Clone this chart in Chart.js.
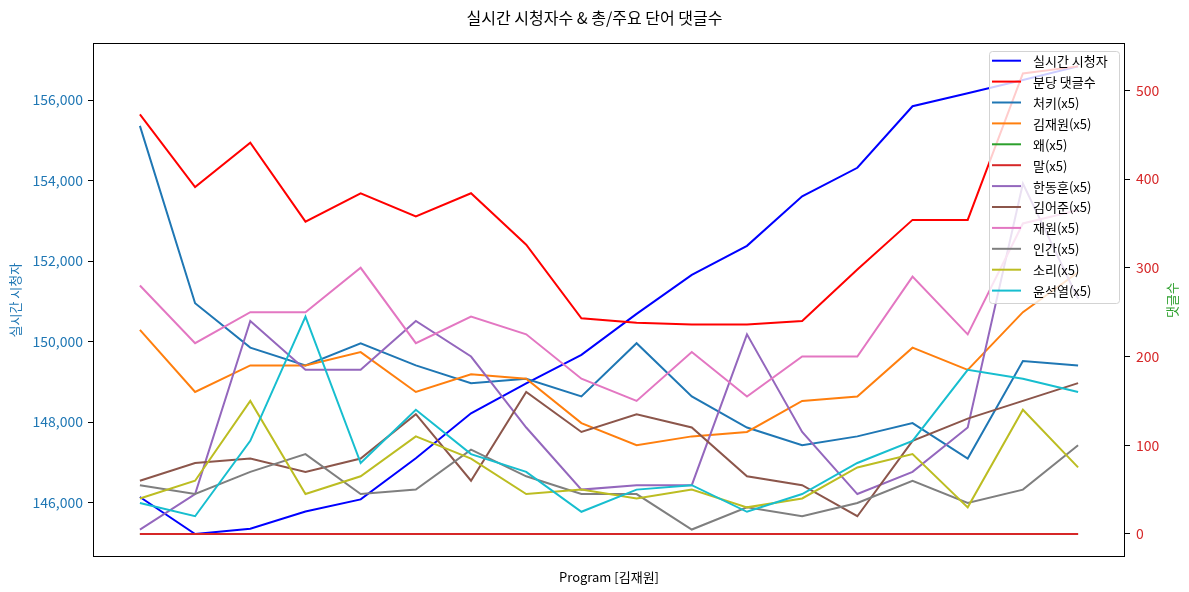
<!DOCTYPE html>
<html>
<head>
<meta charset="utf-8">
<script src="https://cdn.jsdelivr.net/npm/chart.js@4.4.1/dist/chart.umd.min.js"></script>
<style>
html,body{margin:0;padding:0;background:#fff;}
#wrap{width:1189px;height:592px;}
</style>
</head>
<body>
<div id="wrap"><canvas id="c" width="1189" height="592"></canvas></div>
<script>
const FONT = "'Noto Sans CJK KR', 'Noto Sans', sans-serif";

// ---- data ----
const categories = [0,1,2,3,4,5,6,7,8,9,10,11,12,13,14,15,16,17];
const leftTicks = [146000,148000,150000,152000,154000,156000];
const rightTicks = [0,100,200,300,400,500];

const viewers        = [146140,145220,145350,145780,146080,147100,148220,148960,149670,150690,151660,152380,153610,154320,155850,156170,156500,156840];
const commentsPerMin = [473,391,441,352,384,358,384,326,243,238,236,236,240,298,354,354,519,527];
const chuki          = [460,260,210,190,215,190,170,175,155,215,155,120,100,110,125,85,195,190];
const kimJaewon      = [230,160,190,190,205,160,180,175,125,100,110,115,150,155,210,185,250,295];
const wae            = [0,0,0,0,0,0,0,0,0,0,0,0,0,0,0,0,0,0];
const mal            = [0,0,0,0,0,0,0,0,0,0,0,0,0,0,0,0,0,0];
const hanDonghoon    = [5,45,240,185,185,240,200,120,50,55,55,225,115,45,70,120,395,265];
const kimEojun       = [60,80,85,70,85,135,60,160,115,135,120,65,55,20,105,130,150,170];
const jaewon         = [280,215,250,250,300,215,245,225,175,150,205,155,200,200,290,225,350,365];
const ingan          = [55,45,70,90,45,50,95,65,45,45,5,30,20,35,60,35,50,100];
const sori           = [40,60,150,45,65,110,85,45,50,40,50,30,40,75,90,30,140,75];
const yoonSeokyeol   = [35,20,105,245,80,140,90,70,25,50,55,25,45,80,105,185,175,160];

const seriesDefs = [
  {label:'실시간 시청자', values:viewers, color:'#0000ff', axis:'y'},
  {label:'분당 댓글수', values:commentsPerMin, color:'#ff0000', axis:'y2'},
  {label:'처키(x5)', values:chuki, color:'#1f77b4', axis:'y2'},
  {label:'김재원(x5)', values:kimJaewon, color:'#ff7f0e', axis:'y2'},
  {label:'왜(x5)', values:wae, color:'#2ca02c', axis:'y2'},
  {label:'말(x5)', values:mal, color:'#d62728', axis:'y2'},
  {label:'한동훈(x5)', values:hanDonghoon, color:'#9467bd', axis:'y2'},
  {label:'김어준(x5)', values:kimEojun, color:'#8c564b', axis:'y2'},
  {label:'재원(x5)', values:jaewon, color:'#e377c2', axis:'y2'},
  {label:'인간(x5)', values:ingan, color:'#7f7f7f', axis:'y2'},
  {label:'소리(x5)', values:sori, color:'#bcbd22', axis:'y2'},
  {label:'윤석열(x5)', values:yoonSeokyeol, color:'#17becf', axis:'y2'}
];

function padRange(arrs){
  const all = [].concat(...arrs);
  const mn = Math.min(...all), mx = Math.max(...all);
  const m = (mx - mn) * 0.05;
  return [mn - m, mx + m];
}
const [lMin, lMax] = padRange([viewers]);
const [rMin, rMax] = padRange(seriesDefs.filter(s=>s.axis==='y2').map(s=>s.values));
const xSpan = categories[categories.length-1] - categories[0];
const xMin = categories[0] - xSpan*0.05, xMax = categories[categories.length-1] + xSpan*0.05;

const datasets = seriesDefs.map((s, i) => ({
  label: s.label,
  data: s.values.map((v, k) => ({x: categories[k], y: v})),
  borderColor: s.color,
  backgroundColor: s.color,
  borderWidth: 2,
  pointRadius: 0,
  pointHoverRadius: 0,
  tension: 0,
  fill: false,
  yAxisID: s.axis,
  order: seriesDefs.length - i
}));

const framePlugin = {
  id: 'frame',
  afterDatasetsDraw(chart){
    const {ctx, chartArea:a} = chart;
    ctx.save();
    ctx.strokeStyle = '#000';
    ctx.lineWidth = 1;
    ctx.strokeRect(Math.round(a.left)+0.5, Math.round(a.top)+0.5, Math.round(a.right-a.left)-1, Math.round(a.bottom-a.top)-1);
    ctx.restore();
  },
  afterDraw(chart){
    const {ctx, chartArea:a} = chart;
    ctx.save();
    // right axis title (reads bottom to top)
    ctx.translate(1172, (a.top + a.bottom)/2);
    ctx.rotate(-Math.PI/2);
    ctx.fillStyle = '#2ca02c';
    ctx.font = '13px ' + FONT;
    ctx.textAlign = 'center';
    ctx.textBaseline = 'middle';
    ctx.fillText('댓글수', 0, 0);
    ctx.restore();

    // legend in upper right of plot area
    const ds = chart.data.datasets;
    const bx = 989, by = 51, bw = 130, bh = 252;
    ctx.save();
    ctx.beginPath();
    ctx.roundRect(bx+0.5, by+0.5, bw, bh, 3);
    ctx.fillStyle = 'rgba(255,255,255,0.8)';
    ctx.fill();
    ctx.strokeStyle = '#d3d3d3';
    ctx.lineWidth = 1;
    ctx.stroke();
    ctx.font = '13px ' + FONT;
    ctx.textAlign = 'left';
    ctx.textBaseline = 'middle';
    ds.forEach((d, k) => {
      const y = 60.7 + 20.9*k;
      ctx.beginPath();
      ctx.moveTo(992, y);
      ctx.lineTo(1021, y);
      ctx.strokeStyle = d.borderColor;
      ctx.lineWidth = 2;
      ctx.stroke();
      ctx.fillStyle = '#000';
      ctx.fillText(d.label, 1033, y+0.5);
    });
    ctx.restore();
  }
};

new Chart(document.getElementById('c'), {
  type: 'line',
  data: {datasets},
  plugins: [framePlugin],
  options: {
    responsive: false,
    animation: false,
    devicePixelRatio: 1,
    events: [],
    layout: {padding: 0},
    plugins: {
      legend: {display: false},
      tooltip: {enabled: false},
      title: {
        display: true,
        text: '실시간 시청자수 & 총/주요 단어 댓글수',
        color: '#000',
        font: {family: FONT, size: 16, weight: 'normal'},
        padding: {top: 8, bottom: 15.8}
      }
    },
    scales: {
      x: {
        type: 'linear', min: xMin, max: xMax,
        ticks: {display: false},
        grid: {display: false},
        border: {display: false},
        title: {display: true, text: 'Program [김재원]', color: '#000', font: {family: FONT, size: 13}, padding: {top: 0, bottom: 7.6}},
        afterFit(s){ s.height = 34.64; }
      },
      y: {
        type: 'linear', position: 'left', min: lMin, max: lMax,
        afterBuildTicks(s){ s.ticks = leftTicks.map(v => ({value: v})); },
        ticks: {color: '#1f77b4', font: {family: FONT, size: 14}, padding: 5, callback: v => Number(v).toLocaleString('en-US')},
        grid: {drawOnChartArea: false, drawTicks: true, tickLength: 5, color: '#000', tickColor: '#000'},
        border: {display: false},
        title: {display: true, text: '실시간 시청자', color: '#1f77b4', font: {family: FONT, size: 13}, padding: {top: 7, bottom: 0}},
        afterFit(s){ s.width = 93; }
      },
      y2: {
        type: 'linear', position: 'right', min: rMin, max: rMax,
        afterBuildTicks(s){ s.ticks = rightTicks.map(v => ({value: v})); },
        ticks: {color: '#d62728', font: {family: FONT, size: 14}, padding: 6, callback: v => String(v)},
        grid: {drawOnChartArea: false, drawTicks: true, tickLength: 5, color: '#000', tickColor: '#000'},
        border: {display: false},
        title: {display: false},
        afterFit(s){ s.width = 64; }
      }
    }
  }
});
</script>
</body>
</html>
